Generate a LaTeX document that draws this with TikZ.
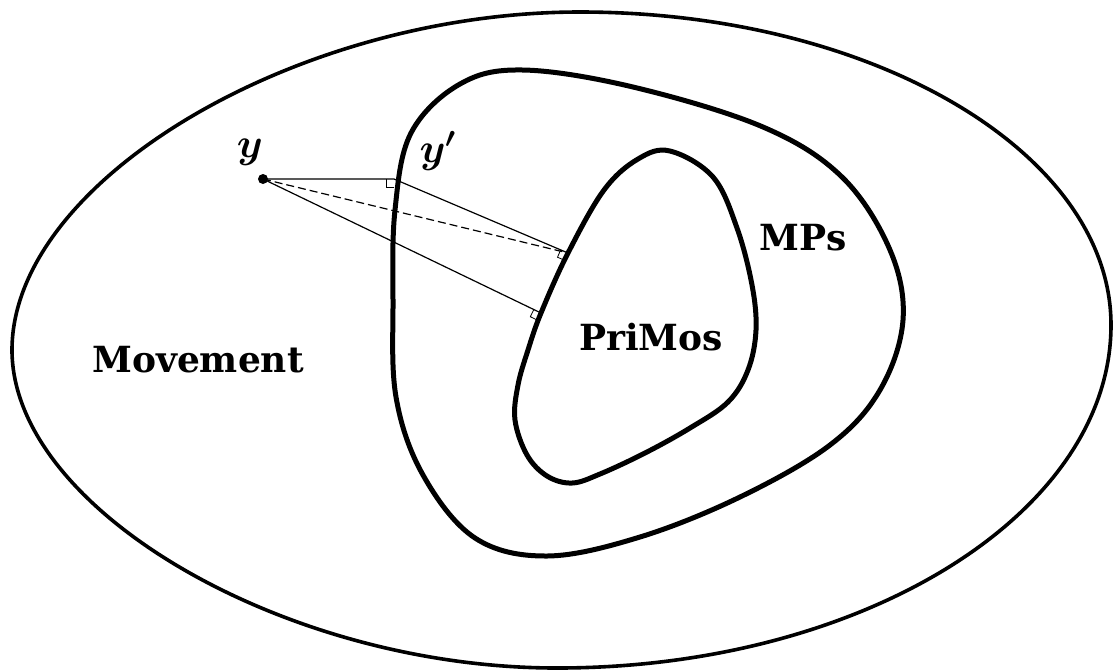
\documentclass[tikz,border=0pt]{standalone}
\usepackage{amsmath}
\usepackage{fontspec}
\setmainfont{DejaVu Serif}
\usepackage{tikz}
\usetikzlibrary{calc}
\definecolor{ink}{HTML}{000000}
\tikzset{
  outer/.style  ={draw=ink, line width=1.8pt},
  region/.style ={draw=ink, line width=2.5pt},
  proj/.style   ={draw=ink, line width=0.6pt},
  projd/.style  ={proj, dash pattern=on 4pt off 2pt},
  rmk/.style    ={draw=ink, line width=0.4pt},
  dot/.style    ={circle, fill=ink, minimum size=5pt, inner sep=0pt},
  lbl/.style    ={font=\fontsize{18}{22}\selectfont\bfseries, inner sep=0pt, anchor=base},
  pt/.style     ={font=\fontsize{20.74}{25}\selectfont, inner sep=0pt}
}

\begin{document}
\begin{tikzpicture}[x=0.5pt, y=-0.5pt]
  \useasboundingbox (0,0) rectangle (1113,671);

  % Movement
  \draw[outer] (12,350) .. controls (12,181) and (296,12) .. (580,12)
               .. controls (873,12) and (1111,153) .. (1111,325)
               .. controls (1111,514) and (862,668) .. (557,668)
               .. controls (284,668) and (12,509) .. cycle;

  % MPs
  \draw[region] plot[smooth cycle, tension=0.6] coordinates {
    (523,70) (633,87) (763,127) (842,177) (890,250) (903,320) (880,390)
    (830,445) (740,497) (640,537) (547,556) (475,538) (423,475) (396,397)
    (393,300) (395,210) (411,133) (460,84)};

  % PriMos
  \draw[region] plot[smooth cycle, tension=0.6] coordinates {
    (670,151) (713,177) (737,228) (752,285) (756,330) (748,370) (728,402)
    (690,428) (645,453) (600,474) (572,483) (547,476) (527,455) (515,420)
    (518,385) (528,350) (541,313) (568,253) (604,190) (638,159)};

  \node[lbl] (mov) at (198,372) {Movement};
  \node[lbl] (mps) at (803,250) {MPs};
  \node[lbl] (pri) at (651,350) {PriMos};

  \coordinate (y)  at (263,179);
  \coordinate (yp) at (394,179);
  \coordinate (q1) at (568,253);
  \coordinate (q2) at (541,313);

  \draw[proj]  (y) -- (yp) -- (q1);
  \draw[proj]  (y) -- (q2);
  \draw[projd] (y) -- (q1);

  \draw[rmk] ($(yp)!4pt!(y)$) -- ($(yp)!4pt!(y)!4pt!-90:(yp)$) -- ($(yp)!4pt!90:(y)$);
  \draw[rmk] ($(q1)!4pt!(yp)$) -- ($(q1)!4pt!(yp)!4pt!-90:(q1)$) -- ($(q1)!4pt!90:(yp)$);
  \draw[rmk] ($(q2)!4pt!(y)$) -- ($(q2)!4pt!(y)!4pt!-90:(q2)$) -- ($(q2)!4pt!90:(y)$);

  \node[dot] (ydot) at (y) {};
  \node[pt] (ylab)  at (250,152) {$\boldsymbol{y}$};
  \node[pt] (yplab) at (438,151) {$\boldsymbol{y'}$};
\end{tikzpicture}
\end{document}
